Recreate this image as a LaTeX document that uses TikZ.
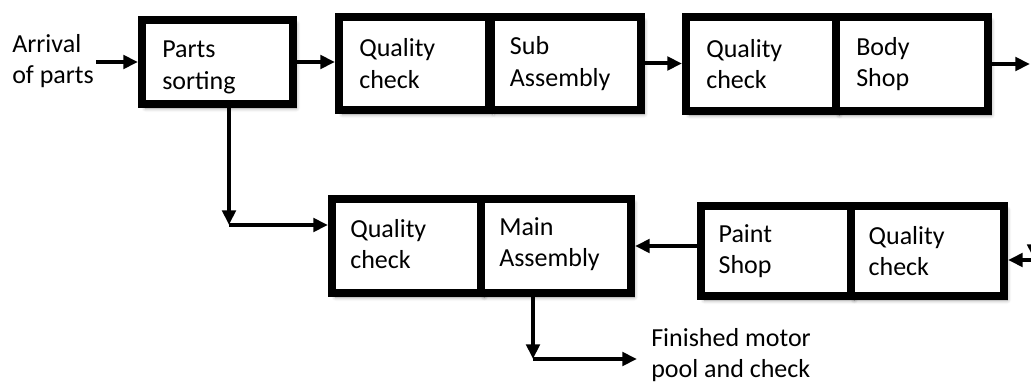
\documentclass[tikz,border=0pt]{standalone}
\usepackage{fontspec}
\setmainfont{Carlito}
\usetikzlibrary{arrows.meta,shadows.blur}
\begin{document}
\begin{tikzpicture}[x=0.75pt,y=-0.75pt,
  box/.style={draw=black, line width=6pt, fill=white, rectangle, inner sep=0pt,
    blur shadow={shadow xshift=2.5pt, shadow yshift=-3pt, shadow blur steps=6,
      shadow opacity=40, shadow blur radius=3pt}},
  lbl/.style={anchor=west, inner sep=0pt, align=left,
    font=\fontsize{19.5}{23.5}\selectfont},
  conn/.style={line width=3pt, -{Triangle[length=11pt,width=10pt]}},
]
\useasboundingbox (0,0) rectangle (1031,385);
\clip (0,0) rectangle (1031,385);

% top row
\node[box, minimum width=113.25pt, minimum height=63pt] (ps) at (217.5,62) {};
\node[box, minimum width=112.5pt, minimum height=69.75pt] (qc1) at (414,63.5) {};
\node[box, minimum width=112.5pt, minimum height=69.75pt] (sub) at (566,63.5) {};
\node[box, minimum width=112.5pt, minimum height=70.5pt] (qc2) at (761,64) {};
\node[box, minimum width=114pt, minimum height=70.5pt] (body) at (912,64) {};
% bottom row
\node[box, minimum width=111.75pt, minimum height=70.5pt] (qc3) at (406.5,246) {};
\node[box, minimum width=112.5pt, minimum height=70.5pt] (main) at (556,246) {};
\node[box, minimum width=112.5pt, minimum height=67.5pt] (paint) at (776,251) {};
\node[box, minimum width=114.75pt, minimum height=67.5pt] (qc4) at (927.5,251) {};

% labels
\node[lbl] (arrT) at (12,61) {Arrival\\of parts};
\node[lbl] (psT) at ([xshift=18pt,yshift=-4pt]ps.west) {Parts\\sorting};
\node[lbl] (qc1T) at ([xshift=18pt]qc1.west) {Quality\\check};
\node[lbl] (subT) at ([xshift=17pt]sub.west) {Sub\\Assembly};
\node[lbl] (qc2T) at ([xshift=18pt]qc2.west) {Quality\\check};
\node[lbl] (bodyT) at ([xshift=18pt]body.west) {Body\\Shop};
\node[lbl] (qc3T) at ([xshift=16.5pt,yshift=1.5pt]qc3.west) {Quality\\check};
\node[lbl] (mainT) at ([xshift=16.5pt,yshift=1.5pt]main.west) {Main\\Assembly};
\node[lbl] (paintT) at ([xshift=16pt]paint.west) {Paint\\Shop};
\node[lbl] (qc4T) at ([xshift=16pt]qc4.west) {Quality\\check};
\node[lbl] (finT) at (651,355) {Finished motor\\pool and check};

% coordinates
\coordinate (j1) at (229,225);
\coordinate (j2) at (533,359);
\coordinate (finIn) at (637,359);
\coordinate (outR) at (1030,64);
\coordinate (inR) at (1034,260);
\coordinate (inRtop) at (1034,200);

% connectors
\draw[conn] ([xshift=1.5pt]arrT.east |- ps.west) -- (ps.west);
\draw[conn] (ps.east) -- (ps.east -| qc1.west);
\draw[conn] (sub.east) -- (sub.east -| qc2.west);
\draw[conn] (body.east) -- (outR);
\draw[conn] (ps.south -| j1) -- (j1);
\draw[conn] (j1) -- (j1 -| qc3.west);
\draw[conn] (paint.west |- main.east) -- (main.east);
\draw[conn] (inRtop) -- ([yshift=0.75pt]inR);
\draw[conn] (inR) -- (inR -| qc4.east);
\draw[conn] (main.south -| j2) -- (j2);
\draw[conn] (j2) -- (finIn);
\end{tikzpicture}
\end{document}
